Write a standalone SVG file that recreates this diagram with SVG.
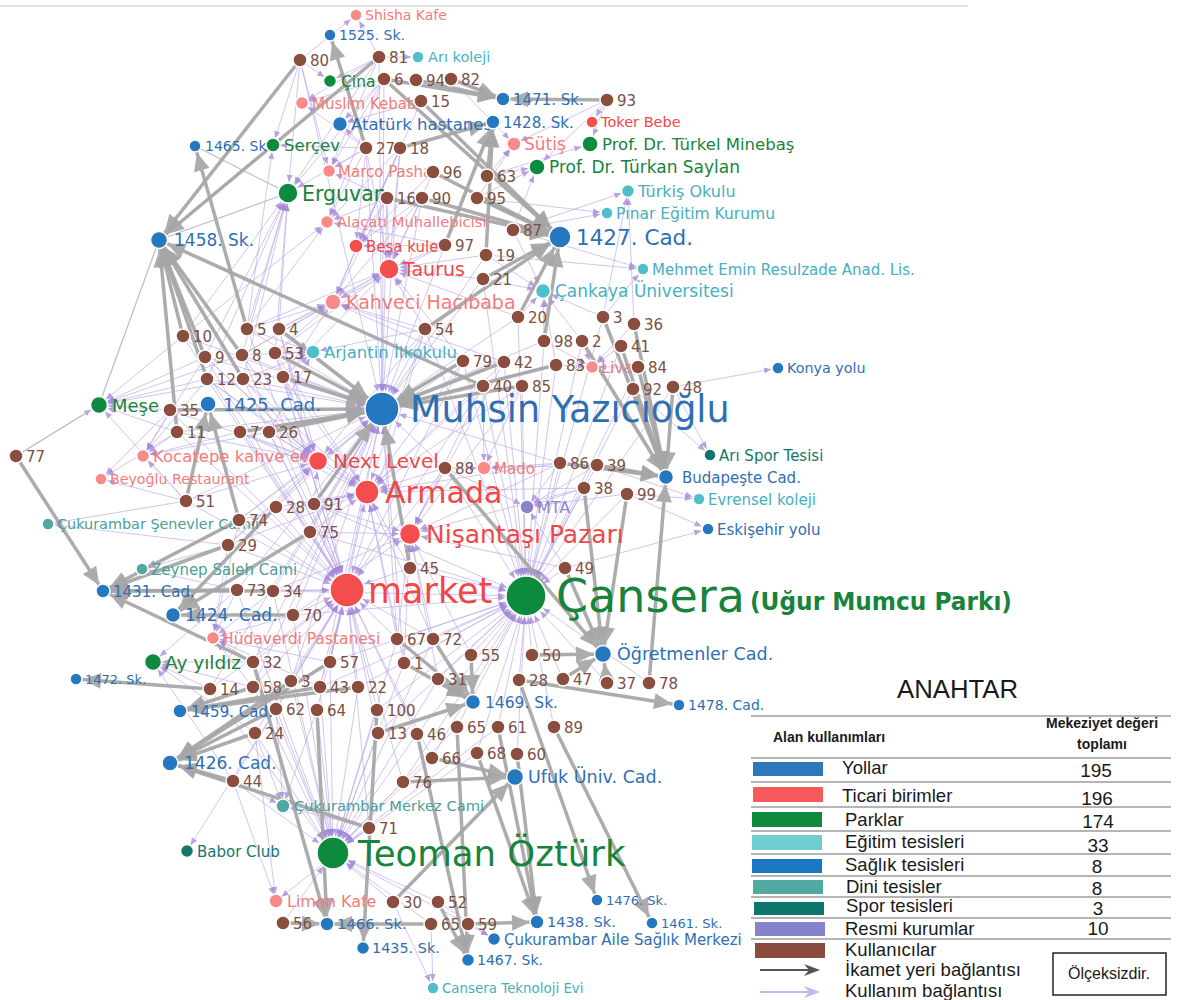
<svg xmlns="http://www.w3.org/2000/svg" width="1178" height="1000" viewBox="0 0 1178 1000">
<style>
text{font-family:"DejaVu Sans","Noto Sans",sans-serif}
.nd circle,.us circle{stroke:#fff;stroke-width:1.5}
.us circle{fill:#8b4d3e}
.us text{fill:#7b5043;font-size:15px}
.rd circle{fill:#2578c0}.rd text{fill:#2e6fb3}
.tc circle{fill:#f44d4d}.tc text{fill:#f04848}
.tl circle{fill:#f88a8a}.tl text{fill:#f27c7c}
.pk circle{fill:#0d8a3e}.pk text{fill:#17833d}
.ed circle{fill:#4ebfcb}.ed text{fill:#45b0c0}
.dn circle{fill:#4fa9a1}.dn text{fill:#4a9f98}
.sp circle{fill:#12766c}.sp text{fill:#17766c}
.rs circle{fill:#8782ca}.rs text{fill:#8a86c8}
.pu path{stroke:#b9a6e6;stroke-width:0.8;fill:none;opacity:0.8}
.gr path{stroke:#a6a6a6;stroke-width:3.5;fill:none;opacity:0.92}
.gt path{stroke:#bdbdbd;stroke-width:1.2;fill:none}
.lg text{font-family:"Liberation Sans",Arial,sans-serif;fill:#1a1a1a}
.lg line{stroke:#9c9c9c;stroke-width:1.3}
</style>
<defs>
<marker id="ga" markerUnits="userSpaceOnUse" markerWidth="18" markerHeight="16" refX="25" refY="8" orient="auto" overflow="visible"><path d="M0,0L18,8L0,16z" fill="#a6a6a6"/></marker>
<marker id="gb" markerUnits="userSpaceOnUse" markerWidth="18" markerHeight="16" refX="27" refY="8" orient="auto" overflow="visible"><path d="M0,0L18,8L0,16z" fill="#a6a6a6"/></marker>
<marker id="gc" markerUnits="userSpaceOnUse" markerWidth="18" markerHeight="16" refX="30" refY="8" orient="auto" overflow="visible"><path d="M0,0L18,8L0,16z" fill="#a6a6a6"/></marker>
<marker id="gd" markerUnits="userSpaceOnUse" markerWidth="18" markerHeight="16" refX="36" refY="8" orient="auto" overflow="visible"><path d="M0,0L18,8L0,16z" fill="#a6a6a6"/></marker>
<marker id="p6" markerUnits="userSpaceOnUse" markerWidth="7" markerHeight="6" refX="14" refY="3" orient="auto" overflow="visible"><path d="M0,0L7,3L0,6z" fill="#a48bd8"/></marker>
<marker id="p8" markerUnits="userSpaceOnUse" markerWidth="7" markerHeight="6" refX="16" refY="3" orient="auto" overflow="visible"><path d="M0,0L7,3L0,6z" fill="#a48bd8"/></marker>
<marker id="p10" markerUnits="userSpaceOnUse" markerWidth="7" markerHeight="6" refX="18" refY="3" orient="auto" overflow="visible"><path d="M0,0L7,3L0,6z" fill="#a48bd8"/></marker>
<marker id="p12" markerUnits="userSpaceOnUse" markerWidth="7" markerHeight="6" refX="20" refY="3" orient="auto" overflow="visible"><path d="M0,0L7,3L0,6z" fill="#a48bd8"/></marker>
<marker id="p16" markerUnits="userSpaceOnUse" markerWidth="7" markerHeight="6" refX="24" refY="3" orient="auto" overflow="visible"><path d="M0,0L7,3L0,6z" fill="#a48bd8"/></marker>
<marker id="p17" markerUnits="userSpaceOnUse" markerWidth="7" markerHeight="6" refX="25" refY="3" orient="auto" overflow="visible"><path d="M0,0L7,3L0,6z" fill="#a48bd8"/></marker>
<marker id="p20" markerUnits="userSpaceOnUse" markerWidth="7" markerHeight="6" refX="28" refY="3" orient="auto" overflow="visible"><path d="M0,0L7,3L0,6z" fill="#a48bd8"/></marker>
<marker id="la" markerUnits="userSpaceOnUse" markerWidth="16" markerHeight="12" refX="14" refY="6" orient="auto" overflow="visible"><path d="M0,0L16,6L0,12L5,6z" fill="#555"/></marker>
<marker id="lb" markerUnits="userSpaceOnUse" markerWidth="16" markerHeight="12" refX="14" refY="6" orient="auto" overflow="visible"><path d="M0,0L16,6L0,12L5,6z" fill="#c9b3f0"/></marker>
</defs>
<rect width="1178" height="1000" fill="#fff"/>
<line x1="0" y1="6" x2="968" y2="6" stroke="#e2e2e2" stroke-width="2"/>

<g id="connectors">
<g class="pu" marker-end="url(#p17)">
<path d="M300 60L382 409"/><path d="M379 57L382 409"/><path d="M384 79L382 409"/><path d="M366 148L382 409"/><path d="M400 148L382 409"/><path d="M387 198L382 409"/><path d="M422 198L382 409"/><path d="M445 245L382 409"/><path d="M486 255L382 409"/><path d="M483 279L382 409"/><path d="M425 329L382 409"/><path d="M518 317L382 409"/><path d="M544 341L382 409"/><path d="M183 336L382 409"/><path d="M247 329L382 409"/><path d="M279 329L382 409"/><path d="M205 357L382 409"/><path d="M242 355L382 409"/><path d="M275 353L382 409"/><path d="M207 379L382 409"/><path d="M243 379L382 409"/><path d="M283 377L382 409"/><path d="M463 361L382 409"/><path d="M504 362L382 409"/><path d="M556 365L382 409"/><path d="M483 386L382 409"/><path d="M522 386L382 409"/><path d="M170 410L382 409"/><path d="M177 432L382 409"/><path d="M240 432L382 409"/><path d="M269 432L382 409"/><path d="M445 468L382 409"/><path d="M560 463L382 409"/><path d="M186 501L382 409"/><path d="M276 507L382 409"/><path d="M314 504L382 409"/><path d="M239 520L382 409"/><path d="M310 532L382 409"/><path d="M228 545L382 409"/><path d="M410 568L382 409"/><path d="M237 590L382 409"/><path d="M273 591L382 409"/><path d="M293 615L382 409"/><path d="M397 639L382 409"/><path d="M253 662L382 409"/><path d="M330 662L382 409"/><path d="M404 663L382 409"/><path d="M291 681L382 409"/><path d="M320 687L382 409"/><path d="M253 687L382 409"/><path d="M210 689L382 409"/>
<path d="M183 336L347 590"/><path d="M247 329L347 590"/><path d="M205 357L347 590"/><path d="M207 379L347 590"/><path d="M243 379L347 590"/><path d="M283 377L347 590"/><path d="M170 410L347 590"/><path d="M177 432L347 590"/><path d="M240 432L347 590"/><path d="M269 432L347 590"/><path d="M186 501L347 590"/><path d="M276 507L347 590"/><path d="M314 504L347 590"/><path d="M239 520L347 590"/><path d="M310 532L347 590"/><path d="M228 545L347 590"/><path d="M237 590L347 590"/><path d="M273 591L347 590"/><path d="M293 615L347 590"/><path d="M397 639L347 590"/><path d="M433 639L347 590"/><path d="M253 662L347 590"/><path d="M330 662L347 590"/><path d="M210 689L347 590"/><path d="M253 687L347 590"/><path d="M291 681L347 590"/><path d="M320 687L347 590"/><path d="M358 687L347 590"/><path d="M276 709L347 590"/><path d="M317 710L347 590"/><path d="M377 710L347 590"/><path d="M255 733L347 590"/><path d="M378 733L347 590"/><path d="M417 734L347 590"/><path d="M233 781L347 590"/><path d="M432 758L347 590"/><path d="M403 782L347 590"/><path d="M369 828L347 590"/><path d="M410 568L347 590"/><path d="M445 468L347 590"/><path d="M425 329L347 590"/><path d="M463 361L347 590"/><path d="M483 386L347 590"/><path d="M279 329L347 590"/><path d="M242 355L347 590"/><path d="M275 353L347 590"/>
</g>
<g class="pu" marker-end="url(#p20)">
<path d="M483 279L526 596"/><path d="M518 317L526 596"/><path d="M544 341L526 596"/><path d="M582 341L526 596"/><path d="M463 361L526 596"/><path d="M504 362L526 596"/><path d="M556 365L526 596"/><path d="M483 386L526 596"/><path d="M522 386L526 596"/><path d="M445 468L526 596"/><path d="M560 463L526 596"/><path d="M597 465L526 596"/><path d="M584 488L526 596"/><path d="M627 494L526 596"/><path d="M410 568L526 596"/><path d="M565 568L526 596"/><path d="M397 639L526 596"/><path d="M433 639L526 596"/><path d="M471 655L526 596"/><path d="M532 655L526 596"/><path d="M404 663L526 596"/><path d="M438 679L526 596"/><path d="M519 680L526 596"/><path d="M563 679L526 596"/><path d="M607 683L526 596"/><path d="M649 683L526 596"/><path d="M457 727L526 596"/><path d="M498 727L526 596"/><path d="M554 727L526 596"/><path d="M477 753L526 596"/><path d="M517 754L526 596"/><path d="M432 758L526 596"/><path d="M417 734L526 596"/><path d="M378 733L526 596"/><path d="M377 710L526 596"/><path d="M358 687L526 596"/><path d="M320 687L526 596"/><path d="M330 662L526 596"/><path d="M403 782L526 596"/><path d="M293 615L526 596"/><path d="M273 591L526 596"/><path d="M314 504L526 596"/><path d="M310 532L526 596"/><path d="M673 387L526 596"/><path d="M633 389L526 596"/><path d="M638 367L526 596"/><path d="M621 346L526 596"/><path d="M603 317L526 596"/><path d="M425 329L526 596"/>
</g>
<g class="pu" marker-end="url(#p16)">
<path d="M255 733L333 853"/><path d="M233 781L333 853"/><path d="M276 709L333 853"/><path d="M317 710L333 853"/><path d="M377 710L333 853"/><path d="M378 733L333 853"/><path d="M417 734L333 853"/><path d="M432 758L333 853"/><path d="M403 782L333 853"/><path d="M369 828L333 853"/><path d="M393 902L333 853"/><path d="M438 902L333 853"/><path d="M283 923L333 853"/><path d="M431 924L333 853"/><path d="M468 924L333 853"/><path d="M477 753L333 853"/><path d="M457 727L333 853"/><path d="M320 687L333 853"/><path d="M358 687L333 853"/><path d="M253 687L333 853"/><path d="M291 681L333 853"/><path d="M210 689L333 853"/><path d="M253 662L333 853"/><path d="M330 662L333 853"/><path d="M404 663L333 853"/><path d="M438 679L333 853"/><path d="M498 727L333 853"/><path d="M397 639L333 853"/><path d="M433 639L333 853"/><path d="M293 615L333 853"/><path d="M273 591L333 853"/><path d="M237 590L333 853"/>
</g>
<g class="pu" marker-end="url(#p12)">
<path d="M275 353L367 492"/><path d="M283 377L367 492"/><path d="M269 432L367 492"/><path d="M240 432L367 492"/><path d="M314 504L367 492"/><path d="M276 507L367 492"/><path d="M310 532L367 492"/><path d="M239 520L367 492"/><path d="M228 545L367 492"/><path d="M445 468L367 492"/><path d="M522 386L367 492"/><path d="M483 386L367 492"/><path d="M463 361L367 492"/><path d="M504 362L367 492"/><path d="M425 329L367 492"/><path d="M410 568L367 492"/><path d="M397 639L367 492"/><path d="M433 639L367 492"/><path d="M330 662L367 492"/><path d="M404 663L367 492"/><path d="M560 463L367 492"/><path d="M584 488L367 492"/><path d="M243 379L367 492"/><path d="M207 379L367 492"/>
</g>
<g class="pu" marker-end="url(#p10)">
<path d="M279 329L318 461"/><path d="M275 353L318 461"/><path d="M283 377L318 461"/><path d="M243 379L318 461"/><path d="M242 355L318 461"/><path d="M269 432L318 461"/><path d="M240 432L318 461"/><path d="M170 410L318 461"/><path d="M177 432L318 461"/><path d="M186 501L318 461"/><path d="M239 520L318 461"/><path d="M276 507L318 461"/><path d="M314 504L318 461"/><path d="M228 545L318 461"/><path d="M463 361L318 461"/><path d="M425 329L318 461"/><path d="M207 379L318 461"/><path d="M205 357L318 461"/><path d="M183 336L318 461"/>
<path d="M445 468L410 534"/><path d="M522 386L410 534"/><path d="M483 386L410 534"/><path d="M560 463L410 534"/><path d="M584 488L410 534"/><path d="M410 568L410 534"/><path d="M565 568L410 534"/><path d="M471 655L410 534"/><path d="M397 639L410 534"/><path d="M433 639L410 534"/><path d="M404 663L410 534"/><path d="M438 679L410 534"/><path d="M310 532L410 534"/><path d="M314 504L410 534"/><path d="M293 615L410 534"/><path d="M273 591L410 534"/><path d="M504 362L410 534"/>
<path d="M366 148L389 269"/><path d="M400 148L389 269"/><path d="M387 198L389 269"/><path d="M422 198L389 269"/><path d="M433 172L389 269"/><path d="M445 245L389 269"/><path d="M486 255L389 269"/><path d="M483 279L389 269"/><path d="M425 329L389 269"/><path d="M518 317L389 269"/><path d="M279 329L389 269"/><path d="M247 329L389 269"/><path d="M275 353L389 269"/><path d="M242 355L389 269"/><path d="M283 377L389 269"/><path d="M463 361L389 269"/>
<path d="M300 60L288 193"/><path d="M379 57L288 193"/><path d="M384 79L288 193"/><path d="M366 148L288 193"/><path d="M183 336L288 193"/><path d="M247 329L288 193"/><path d="M279 329L288 193"/><path d="M205 357L288 193"/><path d="M242 355L288 193"/><path d="M275 353L288 193"/><path d="M207 379L288 193"/><path d="M243 379L288 193"/>
</g>
<g class="pu" marker-end="url(#p8)">
<path d="M421 101L333 302"/><path d="M400 148L333 302"/><path d="M387 198L333 302"/><path d="M422 198L333 302"/><path d="M445 245L333 302"/><path d="M425 329L333 302"/><path d="M279 329L333 302"/><path d="M247 329L333 302"/><path d="M275 353L333 302"/><path d="M242 355L333 302"/><path d="M283 377L333 302"/><path d="M463 361L333 302"/><path d="M504 362L333 302"/>
<path d="M177 432L99 405"/><path d="M16 456L99 405"/><path d="M183 336L99 405"/><path d="M205 357L99 405"/><path d="M207 379L99 405"/><path d="M170 410L99 405"/><path d="M186 501L99 405"/><path d="M243 379L99 405"/><path d="M242 355L99 405"/>
<path d="M210 689L153 662"/><path d="M253 687L153 662"/><path d="M253 662L153 662"/><path d="M237 590L153 662"/><path d="M255 733L153 662"/><path d="M233 781L153 662"/>
<path d="M513 230L543 291"/><path d="M486 255L543 291"/><path d="M483 279L543 291"/><path d="M518 317L543 291"/><path d="M544 341L543 291"/><path d="M582 341L543 291"/><path d="M603 317L543 291"/><path d="M556 365L543 291"/>
<path d="M607 100L537 167"/><path d="M487 176L537 167"/><path d="M477 198L537 167"/><path d="M513 230L537 167"/>
<path d="M607 100L590 144"/><path d="M487 176L590 144"/>
</g>
<g class="pu" marker-end="url(#p6)">
<path d="M384 79L327 222"/><path d="M400 148L327 222"/><path d="M387 198L327 222"/><path d="M366 148L327 222"/><path d="M445 245L327 222"/><path d="M247 329L327 222"/><path d="M183 336L327 222"/>
<path d="M366 148L329 171"/><path d="M387 198L329 171"/><path d="M379 57L329 171"/><path d="M384 79L329 171"/><path d="M300 60L329 171"/>
<path d="M379 57L302 103"/><path d="M384 79L302 103"/><path d="M366 148L302 103"/>
<path d="M170 410L143 456"/><path d="M177 432L143 456"/><path d="M207 379L143 456"/><path d="M205 357L143 456"/><path d="M240 432L143 456"/><path d="M269 432L143 456"/><path d="M186 501L143 456"/>
<path d="M177 432L101 479"/><path d="M170 410L101 479"/><path d="M186 501L101 479"/>
<path d="M237 590L213 638"/><path d="M273 591L213 638"/><path d="M293 615L213 638"/><path d="M253 662L213 638"/><path d="M330 662L213 638"/><path d="M253 687L213 638"/><path d="M320 687L213 638"/><path d="M228 545L213 638"/><path d="M239 520L213 638"/>
<path d="M247 329L313 352"/><path d="M279 329L313 352"/><path d="M242 355L313 352"/><path d="M275 353L313 352"/><path d="M243 379L313 352"/><path d="M283 377L313 352"/><path d="M269 432L313 352"/><path d="M425 329L313 352"/>
<path d="M366 148L356 246"/><path d="M400 148L356 246"/><path d="M387 198L356 246"/><path d="M422 198L356 246"/><path d="M433 172L356 246"/><path d="M445 245L356 246"/>
<path d="M582 341L592 367"/><path d="M621 346L592 367"/><path d="M638 367L592 367"/><path d="M556 365L592 367"/><path d="M544 341L592 367"/><path d="M634 324L592 367"/>
<path d="M522 386L484 468"/><path d="M483 386L484 468"/><path d="M560 463L484 468"/><path d="M445 468L484 468"/><path d="M597 465L484 468"/>
<path d="M560 463L527 507"/><path d="M597 465L527 507"/><path d="M584 488L527 507"/><path d="M627 494L527 507"/><path d="M445 468L527 507"/><path d="M565 568L527 507"/>
<path d="M607 100L514 144"/><path d="M487 176L514 144"/><path d="M451 79L514 144"/><path d="M477 198L514 144"/>
<path d="M513 230L628 191"/><path d="M603 317L628 191"/><path d="M634 324L628 191"/>
<path d="M513 230L607 213"/><path d="M477 198L607 213"/>
<path d="M513 230L643 269"/><path d="M603 317L643 269"/><path d="M486 255L643 269"/>
<path d="M673 387L778 368"/><path d="M673 387L710 455"/><path d="M633 389L710 455"/>
<path d="M627 494L699 499"/><path d="M597 465L699 499"/><path d="M565 568L708 529"/><path d="M627 494L708 529"/>
<path d="M255 733L283 806"/><path d="M233 781L283 806"/><path d="M276 709L283 806"/><path d="M317 710L283 806"/><path d="M369 828L283 806"/>
<path d="M276 709L187 851"/><path d="M233 781L276 901"/><path d="M369 828L276 901"/><path d="M255 733L276 901"/>
<path d="M431 924L433 988"/><path d="M393 902L433 988"/><path d="M468 924L494 939"/><path d="M438 902L494 939"/>
<path d="M228 545L142 569"/><path d="M239 520L142 569"/><path d="M237 590L142 569"/>
<path d="M186 501L48 524"/><path d="M228 545L48 524"/>
<path d="M300 60L356 15"/><path d="M379 57L356 15"/><path d="M379 57L418 57"/><path d="M607 100L592 122"/>
<path d="M384 79L340 124"/><path d="M366 148L340 124"/><path d="M421 101L340 124"/>
<path d="M300 60L330 81"/><path d="M379 57L330 81"/><path d="M300 60L273 145"/><path d="M366 148L273 145"/><path d="M247 329L273 145"/>
</g>
<g class="gt">
<path d="M159 240L99 405"/><path d="M195 146L288 193"/><path d="M159 240L288 193"/><path d="M159 240L273 145"/><path d="M99 405L16 456"/>
</g>
<g class="gr" marker-end="url(#ga)">
<path d="M247 329L195 146"/><path d="M366 148L330 35"/>
<path d="M384 79L503 99"/><path d="M416 80L503 99"/><path d="M451 79L503 99"/><path d="M607 100L503 99"/>
<path d="M400 148L493 122"/><path d="M487 176L493 122"/><path d="M486 255L493 122"/><path d="M445 245L493 122"/>
<path d="M621 346L666 477"/><path d="M638 367L666 477"/><path d="M633 389L666 477"/><path d="M673 387L666 477"/><path d="M560 463L666 477"/><path d="M597 465L666 477"/><path d="M649 683L666 477"/><path d="M603 317L666 477"/><path d="M634 324L666 477"/><path d="M582 341L666 477"/>
<path d="M519 680L679 705"/>
<path d="M16 456L103 591"/><path d="M228 545L103 591"/><path d="M237 590L103 591"/><path d="M273 591L103 591"/><path d="M253 662L103 591"/><path d="M239 520L103 591"/>
<path d="M210 689L76 679"/>
<path d="M320 687L180 711"/><path d="M358 687L180 711"/><path d="M253 687L180 711"/>
<path d="M519 680L597 900"/><path d="M554 727L652 923"/>
<path d="M517 754L537 922"/><path d="M498 727L537 922"/><path d="M468 924L537 922"/><path d="M477 753L537 922"/>
<path d="M283 923L327 924"/><path d="M431 924L327 924"/><path d="M317 710L327 924"/><path d="M253 662L327 924"/>
<path d="M377 710L363 948"/>
<path d="M457 727L468 960"/><path d="M417 734L468 960"/><path d="M438 902L468 960"/>
</g>
<g class="gr" marker-end="url(#gb)">
<path d="M300 60L159 240"/><path d="M379 57L159 240"/><path d="M183 336L159 240"/><path d="M205 357L159 240"/><path d="M207 379L159 240"/><path d="M177 432L159 240"/><path d="M242 355L159 240"/><path d="M243 379L159 240"/><path d="M483 386L159 240"/>
<path d="M239 520L208 404"/><path d="M186 501L208 404"/>
<path d="M584 488L603 654"/><path d="M627 494L603 654"/><path d="M565 568L603 654"/><path d="M532 655L603 654"/><path d="M563 679L603 654"/><path d="M607 683L603 654"/><path d="M445 468L603 654"/>
<path d="M276 507L173 615"/><path d="M310 532L173 615"/><path d="M293 615L173 615"/>
<path d="M233 781L170 763"/><path d="M276 709L170 763"/><path d="M255 733L170 763"/><path d="M330 662L170 763"/><path d="M369 828L170 763"/><path d="M291 681L170 763"/>
<path d="M404 663L473 702"/><path d="M438 679L473 702"/><path d="M397 639L473 702"/><path d="M433 639L473 702"/><path d="M471 655L473 702"/><path d="M378 733L473 702"/>
<path d="M393 902L515 777"/><path d="M403 782L515 777"/><path d="M432 758L515 777"/>
</g>
<g class="gr" marker-end="url(#gc)">
<path d="M421 101L560 237"/><path d="M387 198L560 237"/><path d="M422 198L560 237"/><path d="M433 172L560 237"/><path d="M477 198L560 237"/><path d="M513 230L560 237"/><path d="M483 279L560 237"/><path d="M518 317L560 237"/><path d="M544 341L560 237"/><path d="M425 329L560 237"/><path d="M384 79L560 237"/>
</g>
<g class="gr" marker-end="url(#gd)">
<path d="M170 410L382 409"/><path d="M283 377L382 409"/><path d="M275 353L382 409"/><path d="M269 432L382 409"/><path d="M240 432L382 409"/><path d="M279 329L382 409"/><path d="M463 361L382 409"/><path d="M504 362L382 409"/><path d="M556 365L382 409"/><path d="M522 386L382 409"/><path d="M314 504L382 409"/><path d="M410 568L382 409"/>
</g>
</g>

<g id="nodes">
<g id="shisha-kafe" class="nd tl"><circle cx="356" cy="15" r="6"/><text x="365" y="20" font-size="14">Shisha Kafe</text></g>
<g id="sk-1525" class="nd rd"><circle cx="330" cy="35" r="6"/><text x="339" y="40" font-size="14">1525. Sk.</text></g>
<g id="ari-koleji" class="nd ed"><circle cx="418" cy="57" r="6"/><text x="428" y="62" font-size="14.5">Arı koleji</text></g>
<g id="cina" class="nd pk"><circle cx="330" cy="81" r="6.5"/><text x="341" y="87" font-size="15.5">Çina</text></g>
<g id="muslim-kebab" class="nd tl"><circle cx="302" cy="103" r="6.5"/><text x="312" y="108.5" font-size="15">Müslim Kebab</text></g>
<g id="ataturk-hastanesi" class="nd rd"><circle cx="340" cy="124" r="7.5"/><text x="351" y="130" font-size="16.5">Atatürk hastanesi</text></g>
<g id="sk-1471" class="nd rd"><circle cx="503" cy="99" r="7"/><text x="513" y="104.5" font-size="15">1471. Sk.</text></g>
<g id="sk-1428" class="nd rd"><circle cx="493" cy="122" r="7"/><text x="503" y="127.5" font-size="15">1428. Sk.</text></g>
<g id="toker-bebe" class="nd tc"><circle cx="592" cy="122" r="6"/><text x="601" y="127.3" font-size="14.5">Toker Bebe</text></g>
<g id="sk-1465" class="nd rd"><circle cx="195" cy="146" r="6"/><text x="205" y="151" font-size="14">1465. Sk.</text></g>
<g id="sercev" class="nd pk"><circle cx="273" cy="145" r="7"/><text x="284" y="151" font-size="16.5">Serçev</text></g>
<g id="sutis" class="nd tl"><circle cx="514" cy="144" r="7"/><text x="524" y="150.2" font-size="17">Sütiş</text></g>
<g id="turkel-minebas" class="nd pk"><circle cx="590" cy="144" r="8"/><text x="602" y="150" font-size="16.5">Prof. Dr. Türkel Minebaş</text></g>
<g id="marco-pasha" class="nd tl"><circle cx="329" cy="171" r="6.5"/><text x="338" y="176.5" font-size="15">Marco Pasha</text></g>
<g id="turkan-saylan" class="nd pk"><circle cx="537" cy="167" r="8"/><text x="549" y="173.2" font-size="17">Prof. Dr. Türkan Saylan</text></g>
<g id="erguvan" class="nd pk"><circle cx="288" cy="193" r="10"/><text x="302" y="200.5" font-size="20.5">Erguvan</text></g>
<g id="turkis-okulu" class="nd ed"><circle cx="628" cy="191" r="6.5"/><text x="638" y="196.8" font-size="16">Türkiş Okulu</text></g>
<g id="pinar" class="nd ed"><circle cx="607" cy="213" r="6"/><text x="616" y="218.7" font-size="15.5">Pınar Eğitim Kurumu</text></g>
<g id="alacati" class="nd tl"><circle cx="327" cy="222" r="6.5"/><text x="337" y="227.4" font-size="14.7">Alaçatı Muhallebicisi</text></g>
<g id="sk-1458" class="nd rd"><circle cx="159" cy="240" r="8.5"/><text x="174" y="246.2" font-size="17">1458. Sk.</text></g>
<g id="cad-1427" class="nd rd"><circle cx="560" cy="237" r="11"/><text x="576" y="244.8" font-size="21.5">1427. Cad.</text></g>
<g id="besa-kule" class="nd tc"><circle cx="356" cy="246" r="7"/><text x="366" y="251.5" font-size="15">Besa kule</text></g>
<g id="taurus" class="nd tc"><circle cx="389" cy="269" r="10"/><text x="403" y="276" font-size="19">Taurus</text></g>
<g id="mehmet-emin" class="nd ed"><circle cx="643" cy="269" r="6"/><text x="652" y="274.5" font-size="15">Mehmet Emin Resulzade Anad. Lis.</text></g>
<g id="cankaya-uni" class="nd ed"><circle cx="543" cy="291" r="7.5"/><text x="555" y="297.2" font-size="17">Çankaya Üniversitesi</text></g>
<g id="kahveci" class="nd tl"><circle cx="333" cy="302" r="8"/><text x="346" y="309" font-size="19">Kahveci Hacıbaba</text></g>
<g id="arjantin" class="nd ed"><circle cx="313" cy="352" r="7"/><text x="324" y="358" font-size="16.5">Arjantin İlkokulu</text></g>
<g id="liva" class="nd tl"><circle cx="592" cy="367" r="6.5"/><text x="601" y="372.8" font-size="16">Liva</text></g>
<g id="konya-yolu" class="nd rd"><circle cx="778" cy="368" r="6"/><text x="787" y="373.2" font-size="14.3">Konya yolu</text></g>
<g id="mese" class="nd pk"><circle cx="99" cy="405" r="8.5"/><text x="112" y="411.6" font-size="18">Meşe</text></g>
<g id="cad-1425" class="nd rd"><circle cx="208" cy="404" r="8"/><text x="223" y="410.6" font-size="18">1425. Cad.</text></g>
<g id="muhsin" class="nd rd"><circle cx="382" cy="409" r="17"/><text x="410" y="422" font-size="36.5">Muhsin Yazıcıoğlu</text></g>
<g id="kocatepe" class="nd tl"><circle cx="143" cy="456" r="6.5"/><text x="153" y="462" font-size="16.5">Kocatepe kahve evi</text></g>
<g id="next-level" class="nd tc"><circle cx="318" cy="461" r="9.5"/><text x="333" y="468.3" font-size="20">Next Level</text></g>
<g id="mado" class="nd tl"><circle cx="484" cy="468" r="7"/><text x="494" y="473.5" font-size="15">Mado</text></g>
<g id="ari-spor" class="nd sp"><circle cx="710" cy="455" r="6"/><text x="719" y="460.5" font-size="15">Arı Spor Tesisi</text></g>
<g id="budapeste" class="nd rd"><circle cx="666" cy="477" r="7.5"/><text x="682" y="482.5" font-size="15">Budapeşte Cad.</text></g>
<g id="beyoglu" class="nd tl"><circle cx="101" cy="479" r="6"/><text x="110" y="484.2" font-size="14.2">Beyoğlu Restaurant</text></g>
<g id="armada" class="nd tc"><circle cx="367" cy="492" r="12"/><text x="385" y="503" font-size="30">Armada</text></g>
<g id="evrensel" class="nd ed"><circle cx="699" cy="499" r="6"/><text x="708" y="504.5" font-size="15">Evrensel koleji</text></g>
<g id="mta" class="nd rs"><circle cx="527" cy="507" r="7"/><text x="537" y="512.8" font-size="16">MTA</text></g>
<g id="senevler-camii" class="nd dn"><circle cx="48" cy="524" r="6"/><text x="57" y="529.3" font-size="14.4">Çukurambar Şenevler Camii</text></g>
<g id="eskisehir" class="nd rd"><circle cx="708" cy="529" r="6"/><text x="717" y="534.5" font-size="15">Eskişehir yolu</text></g>
<g id="nisantasi" class="nd tc"><circle cx="410" cy="534" r="10.5"/><text x="426" y="543" font-size="25">Nişantaşı Pazarı</text></g>
<g id="zeynep-saleh" class="nd dn"><circle cx="142" cy="569" r="6"/><text x="151" y="574.5" font-size="15">Zeynep Saleh Cami</text></g>
<g id="market" class="nd tc"><circle cx="347" cy="590" r="17"/><text x="368" y="602.8" font-size="35">market</text></g>
<g id="cansera" class="nd pk"><circle cx="526" cy="596" r="20"/><text x="556" y="612.4" font-size="46">Çansera</text><text x="750" y="610" font-family="Liberation Sans, Arial, sans-serif" font-weight="bold" font-size="25" fill="#1d8a3c" textLength="262" lengthAdjust="spacingAndGlyphs">(Uğur Mumcu Parkı)</text></g>
<g id="cad-1431" class="nd rd"><circle cx="103" cy="591" r="7"/><text x="113" y="596.5" font-size="15">1431. Cad.</text></g>
<g id="cad-1424" class="nd rd"><circle cx="173" cy="615" r="7.5"/><text x="185" y="621.2" font-size="17">1424. Cad.</text></g>
<g id="hudaverdi" class="nd tl"><circle cx="213" cy="638" r="6.5"/><text x="222" y="643.7" font-size="15.5">Hüdaverdi Pastanesi</text></g>
<g id="ay-yildiz" class="nd pk"><circle cx="153" cy="662" r="8.5"/><text x="165" y="668.8" font-size="18.5">Ay yıldız</text></g>
<g id="ogretmenler" class="nd rd"><circle cx="603" cy="654" r="8.5"/><text x="617" y="660.4" font-size="17.5">Öğretmenler Cad.</text></g>
<g id="sk-1472" class="nd rd"><circle cx="76" cy="679" r="6"/><text x="85" y="683.7" font-size="13">1472. Sk.</text></g>
<g id="sk-1469" class="nd rd"><circle cx="473" cy="702" r="7.5"/><text x="485" y="707.7" font-size="15.5">1469. Sk.</text></g>
<g id="cad-1478" class="nd rd"><circle cx="679" cy="705" r="6"/><text x="688" y="710.1" font-size="14">1478. Cad.</text></g>
<g id="cad-1459" class="nd rd"><circle cx="180" cy="711" r="7"/><text x="191" y="716.5" font-size="15">1459. Cad.</text></g>
<g id="cad-1426" class="nd rd"><circle cx="170" cy="763" r="8"/><text x="184" y="769.2" font-size="17">1426. Cad.</text></g>
<g id="ufuk" class="nd rd"><circle cx="515" cy="777" r="8.5"/><text x="528" y="783.4" font-size="17.5">Ufuk Üniv. Cad.</text></g>
<g id="merkez-cami" class="nd dn"><circle cx="283" cy="806" r="7"/><text x="294" y="811.4" font-size="14.7">Çukurambar Merkez Cami</text></g>
<g id="babor-club" class="nd sp"><circle cx="187" cy="851" r="6.5"/><text x="197" y="856.5" font-size="15">Babor Club</text></g>
<g id="teoman" class="nd pk"><circle cx="333" cy="853" r="16"/><text x="358" y="866" font-size="35.5">Teoman Öztürk</text></g>
<g id="limon-kafe" class="nd tl"><circle cx="276" cy="901" r="7"/><text x="287" y="906.8" font-size="16">Limon Kafe</text></g>
<g id="sk-1476" class="nd rd"><circle cx="597" cy="900" r="6"/><text x="606" y="904.7" font-size="13">1476. Sk.</text></g>
<g id="sk-1466" class="nd rd"><circle cx="327" cy="924" r="7"/><text x="337" y="929.4" font-size="14.8">1466. Sk.</text></g>
<g id="sk-1438" class="nd rd"><circle cx="537" cy="922" r="7"/><text x="547" y="927.3" font-size="14.6">1438. Sk.</text></g>
<g id="sk-1461" class="nd rd"><circle cx="652" cy="923" r="6"/><text x="661" y="927.7" font-size="13">1461. Sk.</text></g>
<g id="sk-1435" class="nd rd"><circle cx="363" cy="948" r="6.5"/><text x="372" y="953.3" font-size="14.4">1435. Sk.</text></g>
<g id="aile-saglik" class="nd rd"><circle cx="494" cy="939" r="6.5"/><text x="504" y="944.5" font-size="15">Çukurambar Aile Sağlık Merkezi</text></g>
<g id="sk-1467" class="nd rd"><circle cx="468" cy="960" r="6.5"/><text x="477" y="965.1" font-size="14">1467. Sk.</text></g>
<g id="cansera-tekno" class="nd ed"><circle cx="433" cy="988" r="6"/><text x="442" y="992.9" font-size="13.4">Cansera Teknoloji Evi</text></g>
</g>

<g id="users" class="us">
<g id="u80"><circle cx="300" cy="60" r="7"/><text x="310" y="65.5">80</text></g>
<g id="u81"><circle cx="379" cy="57" r="7"/><text x="389" y="62.5">81</text></g>
<g id="u6"><circle cx="384" cy="79" r="7"/><text x="394" y="84.5">6</text></g>
<g id="u94"><circle cx="416" cy="80" r="7"/><text x="426" y="85.5">94</text></g>
<g id="u82"><circle cx="451" cy="79" r="7"/><text x="461" y="84.5">82</text></g>
<g id="u15"><circle cx="421" cy="101" r="7"/><text x="431" y="106.5">15</text></g>
<g id="u93"><circle cx="607" cy="100" r="7"/><text x="617" y="105.5">93</text></g>
<g id="u27"><circle cx="366" cy="148" r="7"/><text x="376" y="153.5">27</text></g>
<g id="u18"><circle cx="400" cy="148" r="7"/><text x="410" y="153.5">18</text></g>
<g id="u96"><circle cx="433" cy="172" r="7"/><text x="443" y="177.5">96</text></g>
<g id="u63"><circle cx="487" cy="176" r="7"/><text x="497" y="181.5">63</text></g>
<g id="u16"><circle cx="387" cy="198" r="7"/><text x="397" y="203.5">16</text></g>
<g id="u90"><circle cx="422" cy="198" r="7"/><text x="432" y="203.5">90</text></g>
<g id="u95"><circle cx="477" cy="198" r="7"/><text x="487" y="203.5">95</text></g>
<g id="u87"><circle cx="513" cy="230" r="7"/><text x="523" y="235.5">87</text></g>
<g id="u97"><circle cx="445" cy="245" r="7"/><text x="455" y="250.5">97</text></g>
<g id="u19"><circle cx="486" cy="255" r="7"/><text x="496" y="260.5">19</text></g>
<g id="u21"><circle cx="483" cy="279" r="7"/><text x="493" y="284.5">21</text></g>
<g id="u54"><circle cx="425" cy="329" r="7"/><text x="435" y="334.5">54</text></g>
<g id="u20"><circle cx="518" cy="317" r="7"/><text x="528" y="322.5">20</text></g>
<g id="u3"><circle cx="603" cy="317" r="7"/><text x="613" y="322.5">3</text></g>
<g id="u36"><circle cx="634" cy="324" r="7"/><text x="644" y="329.5">36</text></g>
<g id="u98"><circle cx="544" cy="341" r="7"/><text x="554" y="346.5">98</text></g>
<g id="u2"><circle cx="582" cy="341" r="7"/><text x="592" y="346.5">2</text></g>
<g id="u41"><circle cx="621" cy="346" r="7"/><text x="631" y="351.5">41</text></g>
<g id="u10"><circle cx="183" cy="336" r="7"/><text x="193" y="341.5">10</text></g>
<g id="u5"><circle cx="247" cy="329" r="7"/><text x="257" y="334.5">5</text></g>
<g id="u4"><circle cx="279" cy="329" r="7"/><text x="289" y="334.5">4</text></g>
<g id="u9"><circle cx="205" cy="357" r="7"/><text x="215" y="362.5">9</text></g>
<g id="u8"><circle cx="242" cy="355" r="7"/><text x="252" y="360.5">8</text></g>
<g id="u53"><circle cx="275" cy="353" r="7"/><text x="285" y="358.5">53</text></g>
<g id="u12"><circle cx="207" cy="379" r="7"/><text x="217" y="384.5">12</text></g>
<g id="u23"><circle cx="243" cy="379" r="7"/><text x="253" y="384.5">23</text></g>
<g id="u17"><circle cx="283" cy="377" r="7"/><text x="293" y="382.5">17</text></g>
<g id="u79"><circle cx="463" cy="361" r="7"/><text x="473" y="366.5">79</text></g>
<g id="u42"><circle cx="504" cy="362" r="7"/><text x="514" y="367.5">42</text></g>
<g id="u83"><circle cx="556" cy="365" r="7"/><text x="566" y="370.5">83</text></g>
<g id="u84"><circle cx="638" cy="367" r="7"/><text x="648" y="372.5">84</text></g>
<g id="u40"><circle cx="483" cy="386" r="7"/><text x="493" y="391.5">40</text></g>
<g id="u85"><circle cx="522" cy="386" r="7"/><text x="532" y="391.5">85</text></g>
<g id="u92"><circle cx="633" cy="389" r="7"/><text x="643" y="394.5">92</text></g>
<g id="u48"><circle cx="673" cy="387" r="7"/><text x="683" y="392.5">48</text></g>
<g id="u35"><circle cx="170" cy="410" r="7"/><text x="180" y="415.5">35</text></g>
<g id="u11"><circle cx="177" cy="432" r="7"/><text x="187" y="437.5">11</text></g>
<g id="u7"><circle cx="240" cy="432" r="7"/><text x="250" y="437.5">7</text></g>
<g id="u26"><circle cx="269" cy="432" r="7"/><text x="279" y="437.5">26</text></g>
<g id="u77"><circle cx="16" cy="456" r="7"/><text x="26" y="461.5">77</text></g>
<g id="u88"><circle cx="445" cy="468" r="7"/><text x="455" y="473.5">88</text></g>
<g id="u86"><circle cx="560" cy="463" r="7"/><text x="570" y="468.5">86</text></g>
<g id="u39"><circle cx="597" cy="465" r="7"/><text x="607" y="470.5">39</text></g>
<g id="u38"><circle cx="584" cy="488" r="7"/><text x="594" y="493.5">38</text></g>
<g id="u99"><circle cx="627" cy="494" r="7"/><text x="637" y="499.5">99</text></g>
<g id="u51"><circle cx="186" cy="501" r="7"/><text x="196" y="506.5">51</text></g>
<g id="u28a"><circle cx="276" cy="507" r="7"/><text x="286" y="512.5">28</text></g>
<g id="u91"><circle cx="314" cy="504" r="7"/><text x="324" y="509.5">91</text></g>
<g id="u74"><circle cx="239" cy="520" r="7"/><text x="249" y="525.5">74</text></g>
<g id="u75"><circle cx="310" cy="532" r="7"/><text x="320" y="537.5">75</text></g>
<g id="u29"><circle cx="228" cy="545" r="7"/><text x="238" y="550.5">29</text></g>
<g id="u45"><circle cx="410" cy="568" r="7"/><text x="420" y="573.5">45</text></g>
<g id="u49"><circle cx="565" cy="568" r="7"/><text x="575" y="573.5">49</text></g>
<g id="u73"><circle cx="237" cy="590" r="7"/><text x="247" y="595.5">73</text></g>
<g id="u34"><circle cx="273" cy="591" r="7"/><text x="283" y="596.5">34</text></g>
<g id="u70"><circle cx="293" cy="615" r="7"/><text x="303" y="620.5">70</text></g>
<g id="u67"><circle cx="397" cy="639" r="7"/><text x="407" y="644.5">67</text></g>
<g id="u72"><circle cx="433" cy="639" r="7"/><text x="443" y="644.5">72</text></g>
<g id="u32"><circle cx="253" cy="662" r="7"/><text x="263" y="667.5">32</text></g>
<g id="u57"><circle cx="330" cy="662" r="7"/><text x="340" y="667.5">57</text></g>
<g id="u55"><circle cx="471" cy="655" r="7"/><text x="481" y="660.5">55</text></g>
<g id="u50"><circle cx="532" cy="655" r="7"/><text x="542" y="660.5">50</text></g>
<g id="u1"><circle cx="404" cy="663" r="7"/><text x="414" y="668.5">1</text></g>
<g id="u14"><circle cx="210" cy="689" r="7"/><text x="220" y="694.5">14</text></g>
<g id="u58"><circle cx="253" cy="687" r="7"/><text x="263" y="692.5">58</text></g>
<g id="u3b"><circle cx="291" cy="681" r="7"/><text x="301" y="686.5">3</text></g>
<g id="u43"><circle cx="320" cy="687" r="7"/><text x="330" y="692.5">43</text></g>
<g id="u22"><circle cx="358" cy="687" r="7"/><text x="368" y="692.5">22</text></g>
<g id="u28b"><circle cx="519" cy="680" r="7"/><text x="529" y="685.5">28</text></g>
<g id="u47"><circle cx="563" cy="679" r="7"/><text x="573" y="684.5">47</text></g>
<g id="u37"><circle cx="607" cy="683" r="7"/><text x="617" y="688.5">37</text></g>
<g id="u78"><circle cx="649" cy="683" r="7"/><text x="659" y="688.5">78</text></g>
<g id="u31"><circle cx="438" cy="679" r="7"/><text x="448" y="684.5">31</text></g>
<g id="u62"><circle cx="276" cy="709" r="7"/><text x="286" y="714.5">62</text></g>
<g id="u64"><circle cx="317" cy="710" r="7"/><text x="327" y="715.5">64</text></g>
<g id="u100"><circle cx="377" cy="710" r="7"/><text x="387" y="715.5">100</text></g>
<g id="u24"><circle cx="255" cy="733" r="7"/><text x="265" y="738.5">24</text></g>
<g id="u13"><circle cx="378" cy="733" r="7"/><text x="388" y="738.5">13</text></g>
<g id="u46"><circle cx="417" cy="734" r="7"/><text x="427" y="739.5">46</text></g>
<g id="u65a"><circle cx="457" cy="727" r="7"/><text x="467" y="732.5">65</text></g>
<g id="u61"><circle cx="498" cy="727" r="7"/><text x="508" y="732.5">61</text></g>
<g id="u89"><circle cx="554" cy="727" r="7"/><text x="564" y="732.5">89</text></g>
<g id="u44"><circle cx="233" cy="781" r="7"/><text x="243" y="786.5">44</text></g>
<g id="u66"><circle cx="432" cy="758" r="7"/><text x="442" y="763.5">66</text></g>
<g id="u68"><circle cx="477" cy="753" r="7"/><text x="487" y="758.5">68</text></g>
<g id="u60"><circle cx="517" cy="754" r="7"/><text x="527" y="759.5">60</text></g>
<g id="u76"><circle cx="403" cy="782" r="7"/><text x="413" y="787.5">76</text></g>
<g id="u71"><circle cx="369" cy="828" r="7"/><text x="379" y="833.5">71</text></g>
<g id="u30"><circle cx="393" cy="902" r="7"/><text x="403" y="907.5">30</text></g>
<g id="u52"><circle cx="438" cy="902" r="7"/><text x="448" y="907.5">52</text></g>
<g id="u56"><circle cx="283" cy="923" r="7"/><text x="293" y="928.5">56</text></g>
<g id="u65b"><circle cx="431" cy="924" r="7"/><text x="441" y="929.5">65</text></g>
<g id="u59"><circle cx="468" cy="924" r="7"/><text x="478" y="929.5">59</text></g>
</g>

<g id="legend" class="lg">
<text x="897" y="698" font-size="26" textLength="121" lengthAdjust="spacingAndGlyphs">ANAHTAR</text>
<line x1="751" y1="716" x2="1171" y2="716"/>
<text x="773" y="742" font-size="14" font-weight="bold">Alan kullanımları</text>
<text x="1102" y="728" font-size="14" font-weight="bold" text-anchor="middle">Mekeziyet değeri</text>
<text x="1102" y="749" font-size="14" font-weight="bold" text-anchor="middle">toplamı</text>
<line x1="751" y1="758" x2="1171" y2="758"/>
<line x1="751" y1="782" x2="1171" y2="782"/>
<line x1="751" y1="807" x2="1171" y2="807"/>
<line x1="751" y1="831" x2="1171" y2="831"/>
<line x1="751" y1="854" x2="1171" y2="854"/>
<line x1="751" y1="876" x2="1171" y2="876"/>
<line x1="751" y1="897" x2="1171" y2="897"/>
<line x1="751" y1="918" x2="1171" y2="918"/>
<line x1="751" y1="939" x2="1171" y2="939"/>
<rect x="753" y="762" width="70" height="14" fill="#2d77bd"/>
<rect x="753" y="787" width="70" height="15" fill="#f75a5a"/>
<rect x="752" y="812" width="70" height="15" fill="#0d8a3e"/>
<rect x="752" y="835" width="70" height="15" fill="#6fcfd0"/>
<rect x="752" y="859" width="70" height="14" fill="#1a78c2"/>
<rect x="753" y="880" width="70" height="14" fill="#52a9a2"/>
<rect x="754" y="902" width="70" height="13" fill="#0f766e"/>
<rect x="755" y="922" width="70" height="14" fill="#8882cc"/>
<rect x="755" y="943" width="70" height="15" fill="#8a4a3e"/>
<g font-size="18.5">
<text x="842" y="774">Yollar</text>
<text x="842" y="802">Ticari birimler</text>
<text x="845" y="826">Parklar</text>
<text x="845" y="848">Eğitim tesisleri</text>
<text x="845" y="871">Sağlık tesisleri</text>
<text x="846" y="893">Dini tesisler</text>
<text x="846" y="912">Spor tesisleri</text>
<text x="845" y="935">Resmi kurumlar</text>
<text x="845" y="956">Kullanıcılar</text>
<text x="845" y="976">İkamet yeri bağlantısı</text>
<text x="845" y="997">Kullanım bağlantısı</text>
</g>
<g font-size="19" text-anchor="middle">
<text x="1096" y="777">195</text>
<text x="1097" y="805">196</text>
<text x="1098" y="828">174</text>
<text x="1098" y="852">33</text>
<text x="1097" y="873">8</text>
<text x="1097" y="895">8</text>
<text x="1098" y="915">3</text>
<text x="1098" y="935">10</text>
</g>
<line x1="760" y1="970" x2="818" y2="970" style="stroke:#555;stroke-width:2" marker-end="url(#la)"/>
<line x1="760" y1="992" x2="818" y2="992" style="stroke:#c9b3f0;stroke-width:2" marker-end="url(#lb)"/>
<rect x="1053" y="953" width="113" height="42" fill="#fff" stroke="#222" stroke-width="1.5"/>
<text x="1109" y="979" font-size="16" text-anchor="middle">Ölçeksizdir.</text>
</g>
</svg>
